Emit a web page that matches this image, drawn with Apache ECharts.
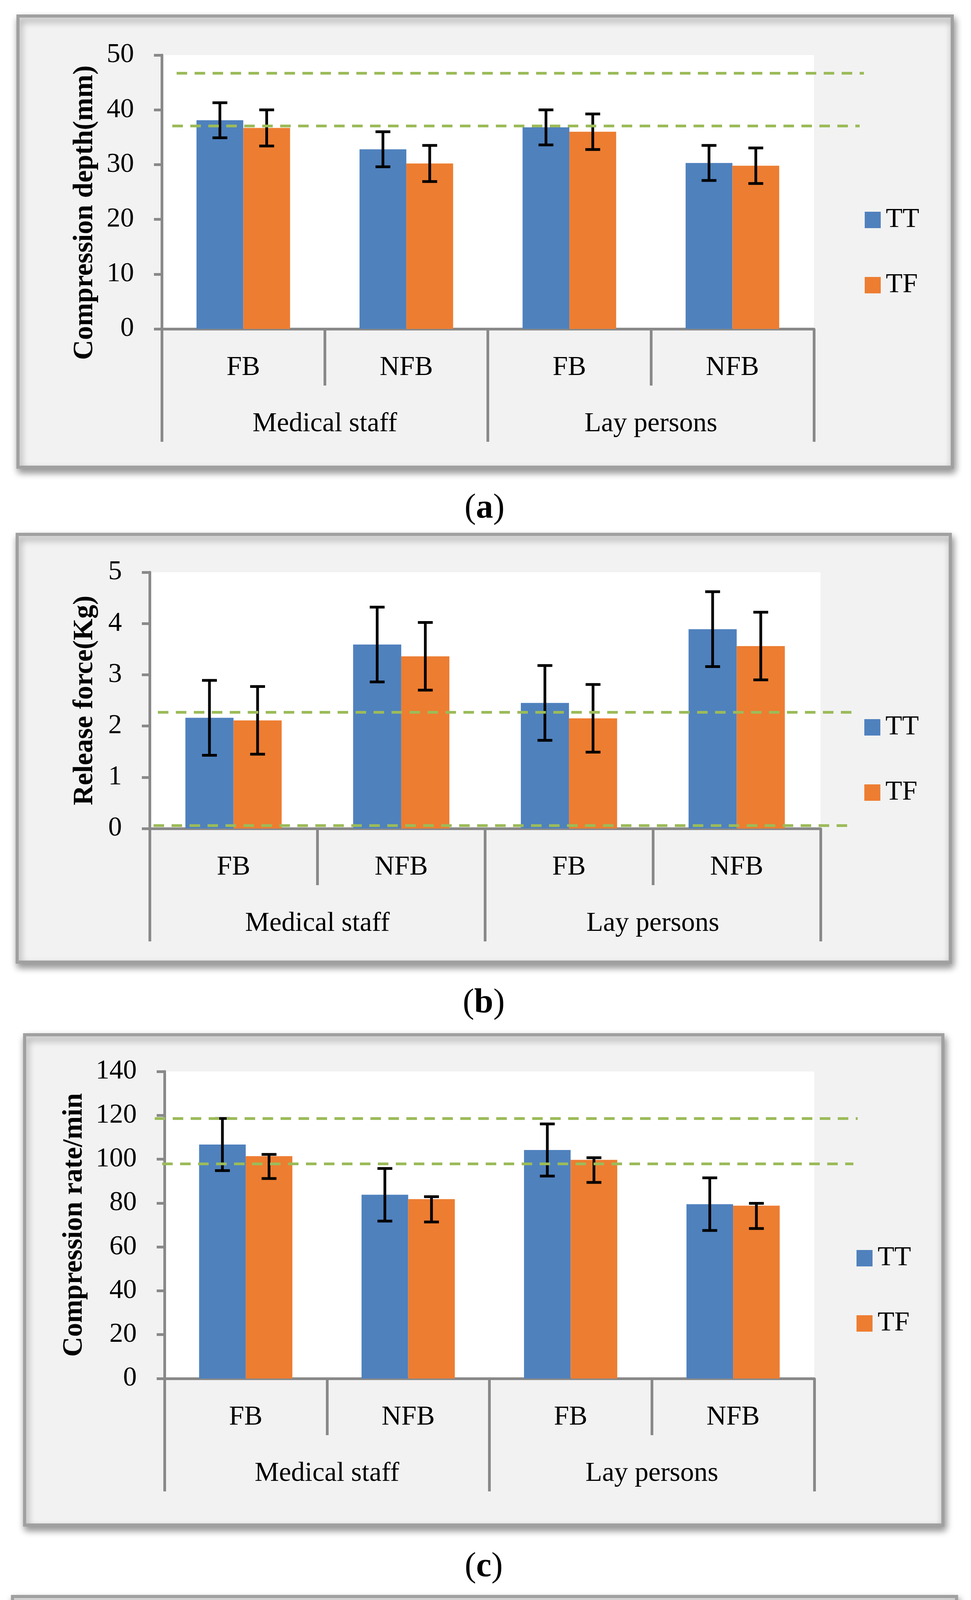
<!DOCTYPE html>
<html><head><meta charset="utf-8">
<script src="https://cdn.jsdelivr.net/npm/echarts@6/dist/echarts.min.js"></script>
<style>html,body{margin:0;padding:0;background:#fff}#c{width:2485px;height:5485px}</style>
</head><body><div id="c"></div>
<script>
// ---------- data ----------
const categories = ['FB', 'NFB', 'FB', 'NFB'];
const groups = ['Medical staff', 'Lay persons'];
const seriesNames = ['TT', 'TF'];
const captions = ['a', 'b', 'c', 'd'];
const yTitles = ['Compression depth(mm)', 'Release force(Kg)', 'Compression rate/min', 'Duty cycle%'];
const yMax = [50, 5, 140, 60];
const yInterval = [10, 1, 20, 10];

// (a) Compression depth
const depthTT = [38.1, 32.8, 36.8, 30.3];
const depthTTPlus = [3.2, 3.2, 3.2, 3.2];
const depthTTMinus = [3.2, 3.2, 3.2, 3.2];
const depthTF = [36.7, 30.2, 36.0, 29.8];
const depthTFPlus = [3.3, 3.3, 3.25, 3.25];
const depthTFMinus = [3.3, 3.3, 3.25, 3.25];
const depthRef = [46.7, 37.1];

// (b) Release force
const forceTT = [2.16, 3.59, 2.45, 3.89];
const forceTTPlus = [0.73, 0.73, 0.73, 0.73];
const forceTTMinus = [0.73, 0.73, 0.73, 0.73];
const forceTF = [2.11, 3.36, 2.15, 3.56];
const forceTFPlus = [0.66, 0.66, 0.66, 0.66];
const forceTFMinus = [0.66, 0.66, 0.66, 0.66];
const forceRef = [2.27, 0.06];

// (c) Compression rate
const rateTT = [106.7, 83.8, 104.2, 79.5];
const rateTTPlus = [11.9, 12.0, 11.9, 12.0];
const rateTTMinus = [11.9, 12.0, 11.9, 12.0];
const rateTF = [101.4, 81.8, 99.7, 78.8];
const rateTFPlus = [0.8, 1.1, 1.0, 1.1];
const rateTFMinus = [10.2, 10.4, 10.3, 10.4];
const rateRef = [118.5, 98.0];

// (d) Duty cycle
const dutyTT = [48.7, 46.6, 46.8, 44.6];
const dutyTTPlus = [1.5, 1.6, 1.55, 1.5];
const dutyTTMinus = [1.5, 1.6, 1.55, 1.5];
const dutyTF = [46.0, 43.3, 45.1, 43.2];
const dutyTFPlus = [1.25, 1.3, 1.25, 1.25];
const dutyTFMinus = [1.25, 1.3, 1.25, 1.25];
const dutyRef = [49.6, 29.3];

const panels = [
  {tt: depthTT, ttP: depthTTPlus, ttM: depthTTMinus, tf: depthTF, tfP: depthTFPlus, tfM: depthTFMinus, ref: depthRef},
  {tt: forceTT, ttP: forceTTPlus, ttM: forceTTMinus, tf: forceTF, tfP: forceTFPlus, tfM: forceTFMinus, ref: forceRef},
  {tt: rateTT, ttP: rateTTPlus, ttM: rateTTMinus, tf: rateTF, tfP: rateTFPlus, tfM: rateTFMinus, ref: rateRef},
  {tt: dutyTT, ttP: dutyTTPlus, ttM: dutyTTMinus, tf: dutyTF, tfP: dutyTFPlus, tfM: dutyTFMinus, ref: dutyRef}
];

// ---------- layout / style ----------
const FONT = '"Liberation Serif", "Times New Roman", serif';
const AX = '#898989';
const BLUE = '#4F81BD', ORANGE = '#ED7D31', GREEN = '#9BBB59';
const BAR_RATIO = 0.287;
const layout = [
  {box: [42, 37, 2441, 1200], grid: [414, 141, 1669, 701], legend: [2213, 528], nameGap: 161, namePad: 106, cap: [1240, 1302], refX: [[452, 2211], [441, 2200]]},
  {box: [40, 1364, 2436, 2467], grid: [383, 1465, 1717, 656], legend: [2212, 1827], nameGap: 130, namePad: 0, cap: [1238, 2569], refX: [[404, 2179], [393, 2168]]},
  {box: [59, 2645, 2417, 3908], grid: [421, 2743, 1663, 786], legend: [2192, 3186], nameGap: 195, namePad: 0, cap: [1238, 4012], refX: [[396, 2195], [415, 2184]]},
  {box: [28, 4083, 2452, 5323], grid: [417, 4182, 1703, 762], legend: [2227, 4614], nameGap: 161, namePad: 0, cap: [1240, 5430], refX: [[448, 2187], [396, 2171]]}
];

function errRender(params, api) {
  const k = api.value(0), lo = api.value(1), hi = api.value(2), s = api.value(3);
  const band = api.size([1, 0])[0];
  const bw = band * BAR_RATIO;
  const top = api.coord([k, hi]);
  const bot = api.coord([k, lo]);
  const cx = top[0] + (s === 0 ? -bw / 2 : bw / 2);
  const st = {stroke: '#000', lineWidth: 7};
  const hw = 19;
  return {type: 'group', children: [
    {type: 'line', shape: {x1: cx, y1: top[1], x2: cx, y2: bot[1]}, style: st},
    {type: 'line', shape: {x1: cx - hw, y1: top[1], x2: cx + hw, y2: top[1]}, style: st},
    {type: 'line', shape: {x1: cx - hw, y1: bot[1], x2: cx + hw, y2: bot[1]}, style: st}
  ]};
}

const option = {backgroundColor: '#fff', animation: false, grid: [], xAxis: [], yAxis: [], series: [], legend: [], graphic: []};
const labelStyle = {fontFamily: FONT, fontSize: 70, color: '#000'};

panels.forEach((p, i) => {
  const L = layout[i];
  const b = L.box;
  option.graphic.push({type: 'rect', z: -10, silent: true,
    shape: {x: b[0] + 4, y: b[1] + 4, width: b[2] - b[0] - 8, height: b[3] - b[1] - 8},
    style: {fill: '#F2F2F2', stroke: '#A0A0A0', lineWidth: 8, shadowBlur: 18, shadowOffsetX: 4, shadowOffsetY: 10, shadowColor: 'rgba(0,0,0,0.4)'}});
  option.graphic.push({type: 'text', x: L.cap[0], y: L.cap[1], silent: true,
    style: {text: '{p|(}{b|' + captions[i] + '}{p|)}', align: 'center', verticalAlign: 'middle', fill: '#000',
      rich: {p: {fontFamily: FONT, fontSize: 88, color: '#000'}, b: {fontFamily: FONT, fontSize: 88, fontWeight: 'bold', color: '#000'}}}});

  option.grid.push({left: L.grid[0], top: L.grid[1], width: L.grid[2], height: L.grid[3], show: true, backgroundColor: '#fff', borderWidth: 0});
  option.xAxis.push({type: 'category', gridIndex: i, data: categories, position: 'bottom',
    axisLine: {show: true, onZero: false, lineStyle: {color: AX, width: 7}},
    axisTick: {show: true, interval: 0, length: 145, lineStyle: {color: AX, width: 7}},
    axisLabel: Object.assign({interval: 0, margin: 65}, labelStyle), splitLine: {show: false}});
  option.xAxis.push({type: 'category', gridIndex: i, data: groups, position: 'bottom',
    axisLine: {show: false},
    axisTick: {show: true, interval: 0, length: 289, lineStyle: {color: AX, width: 7}},
    axisLabel: Object.assign({interval: 0, margin: 209}, labelStyle), splitLine: {show: false}});
  option.yAxis.push({type: 'value', gridIndex: i, min: 0, max: yMax[i], interval: yInterval[i],
    axisLine: {show: true, onZero: false, lineStyle: {color: AX, width: 7}},
    axisTick: {show: true, length: 20, lineStyle: {color: AX, width: 7}},
    axisLabel: Object.assign({margin: 71}, labelStyle), splitLine: {show: false},
    name: yTitles[i], nameLocation: 'middle', nameRotate: 90, nameGap: L.nameGap,
    nameTextStyle: {fontFamily: FONT, fontWeight: 'bold', fontSize: 71, color: '#000', padding: [0, L.namePad, 0, 0]}});

  option.series.push({name: seriesNames[0], type: 'bar', xAxisIndex: 2 * i, yAxisIndex: i, data: p.tt,
    barWidth: (BAR_RATIO * 100) + '%', barGap: '0%', itemStyle: {color: BLUE}, clip: false, silent: true,
    markLine: {symbol: 'none', silent: true, z: 6, label: {show: false},
      lineStyle: {color: GREEN, width: 7, type: [27, 19], cap: 'butt'},
      emphasis: {disabled: true},
      data: p.ref.map((v, k) => [{xAxis: 0, yAxis: v, x: L.refX[k][0]}, {xAxis: 0, yAxis: v, x: L.refX[k][1]}])}});
  option.series.push({name: seriesNames[1], type: 'bar', xAxisIndex: 2 * i, yAxisIndex: i, data: p.tf,
    barWidth: (BAR_RATIO * 100) + '%', barGap: '0%', itemStyle: {color: ORANGE}, silent: true});
  const errData = [];
  for (let k = 0; k < 4; k++) errData.push([k, p.tt[k] - p.ttM[k], p.tt[k] + p.ttP[k], 0]);
  for (let k = 0; k < 4; k++) errData.push([k, p.tf[k] - p.tfM[k], p.tf[k] + p.tfP[k], 1]);
  option.series.push({type: 'custom', xAxisIndex: 2 * i, yAxisIndex: i, z: 4, silent: true,
    renderItem: errRender, encode: {x: 0, y: [1, 2]}, data: errData});

  option.legend.push({data: seriesNames, orient: 'vertical', left: L.legend[0], top: L.legend[1], padding: 0,
    itemWidth: 41, itemHeight: 42, itemGap: 97, icon: 'rect', selectedMode: false,
    textStyle: {fontFamily: FONT, fontSize: 70, color: '#000', lineHeight: 42, padding: [0, 0, 0, 8]}});
});

const chart = echarts.init(document.getElementById('c'), null, {renderer: 'canvas'});
chart.setOption(option);
</script>
</body></html>
